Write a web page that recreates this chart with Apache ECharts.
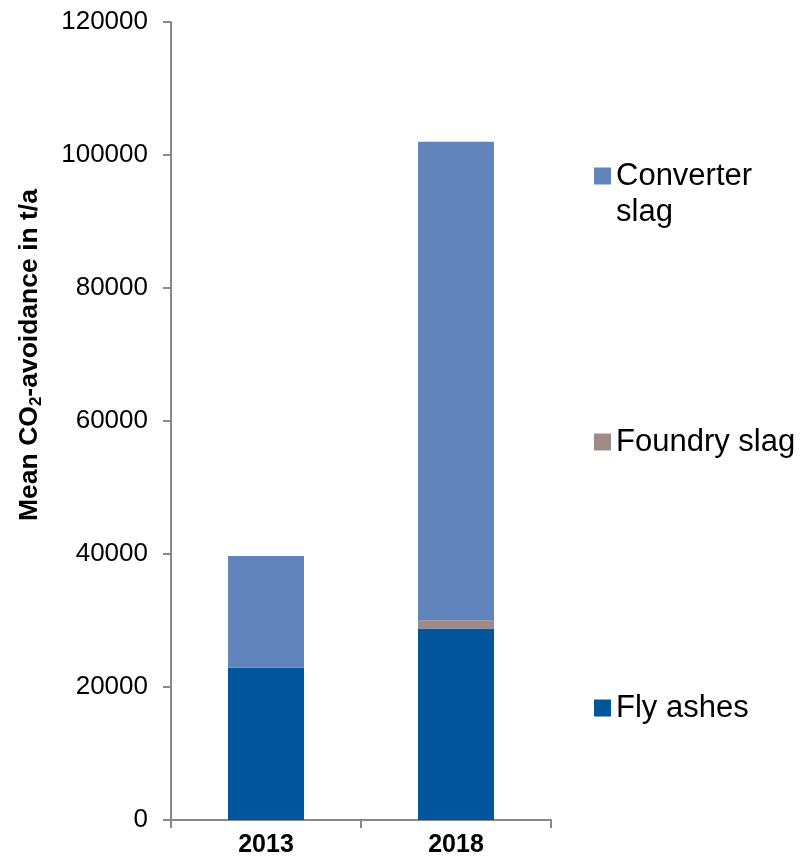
<!DOCTYPE html>
<html>
<head>
<meta charset="utf-8">
<script src="https://cdn.jsdelivr.net/npm/echarts@6/dist/echarts.min.js"></script>
<style>
  html, body { margin: 0; padding: 0; background: #ffffff; }
  #chart { width: 808px; height: 863px; }
</style>
</head>
<body>
<div id="chart"></div>
<script>
// Mean CO2 avoidance by by-product, in t/a
const years = ['2013', '2018'];
const flyAshes = [22900, 28800];
const foundrySlag = [0, 1250];
const converterSlag = [16800, 71950];
const yTicks = { min: 0, max: 120000, interval: 20000 };

const FONT = '"Liberation Sans", Arial, sans-serif';
const AXIS_GREY = '#898989';
const COLORS = { converter: '#6284BD', foundry: '#9E8A89', fly: '#00559B' };

const chart = echarts.init(document.getElementById('chart'), null, { renderer: 'canvas' });

function legendFor(name, top) {
  return {
    data: [name],
    orient: 'vertical',
    left: 589,
    top: top,
    itemWidth: 17,
    itemHeight: 17,
    icon: 'rect',
    selectedMode: false,
    textStyle: {
      fontFamily: FONT,
      fontSize: 31,
      lineHeight: 36,
      color: '#000000'
    }
  };
}

const option = {
  animation: false,
  backgroundColor: '#ffffff',
  grid: { left: 171, top: 22, right: 257, bottom: 43, containLabel: false },
  legend: [
    // blank first line keeps the marker level with "Converter"
    Object.assign(legendFor('Converter slag', 117), {
      formatter: function () { return ' \nConverter\nslag'; }
    }),
    legendFor('Foundry slag', 419),
    legendFor('Fly ashes', 685)
  ],
  xAxis: {
    type: 'category',
    data: years,
    axisLine: { show: true, lineStyle: { color: AXIS_GREY, width: 2 } },
    axisTick: { show: true, alignWithLabel: false, length: 8, lineStyle: { color: AXIS_GREY, width: 2 } },
    axisLabel: { fontFamily: FONT, fontSize: 25, fontWeight: 'bold', color: '#000000', margin: 13 },
    splitLine: { show: false }
  },
  yAxis: {
    type: 'value',
    min: yTicks.min,
    max: yTicks.max,
    interval: yTicks.interval,
    axisLine: { show: true, lineStyle: { color: AXIS_GREY, width: 2 } },
    axisTick: { show: true, length: 8, lineStyle: { color: AXIS_GREY, width: 2 } },
    axisLabel: {
      fontFamily: FONT, fontSize: 26, color: '#000000', margin: 23,
      formatter: function (v) { return String(v); }
    },
    splitLine: { show: false },
    name: '{t|Mean CO}{s|2}{t|-avoidance in t/a}',
    nameLocation: 'middle',
    nameRotate: 90,
    nameGap: 126,
    nameTextStyle: {
      padding: [0, 0, 0, 132],
      rich: {
        t: { fontFamily: FONT, fontSize: 26.5, fontWeight: 'bold', color: '#000000' },
        s: { fontFamily: FONT, fontSize: 17, fontWeight: 'bold', color: '#000000', padding: [13, 0, 0, 0] }
      }
    }
  },
  series: [
    {
      name: 'Fly ashes', type: 'bar', stack: 'total', data: flyAshes,
      barWidth: '40%', itemStyle: { color: COLORS.fly }
    },
    {
      name: 'Foundry slag', type: 'bar', stack: 'total', data: foundrySlag,
      barWidth: '40%', itemStyle: { color: COLORS.foundry }
    },
    {
      name: 'Converter slag', type: 'bar', stack: 'total', data: converterSlag,
      barWidth: '40%', itemStyle: { color: COLORS.converter }
    }
  ]
};

chart.setOption(option);
</script>
</body>
</html>
